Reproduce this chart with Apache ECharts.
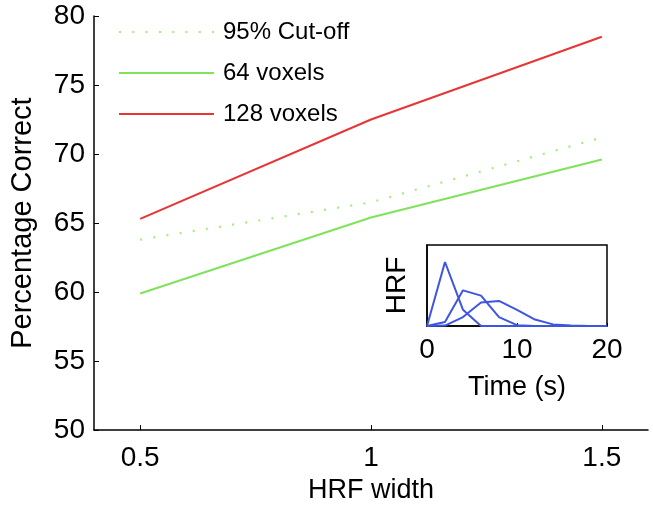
<!DOCTYPE html>
<html>
<head>
<meta charset="utf-8">
<script src="https://cdn.jsdelivr.net/npm/echarts@6/dist/echarts.min.js"></script>
<style>html,body{margin:0;padding:0;background:#fff}#c{width:653px;height:509px}</style>
</head>
<body>
<div id="c"></div>
<script>
var hrfWidth = [0.5, 1, 1.5];
var xTicks = [0.5, 1, 1.5];
var cutoff = [63.8, 66.5, 71.2];
var voxels64 = [59.9, 65.4, 69.6];
var voxels128 = [65.3, 72.5, 78.5];
var time = [0, 2, 4, 6, 8, 10, 12, 14, 16, 18, 20];
var hrf1 = [0, 0.79, 0.20, 0, 0, 0, 0, 0, 0, 0, 0];
var hrf2 = [0, 0.05, 0.44, 0.375, 0.11, 0.01, 0, 0, 0, 0, 0];
var hrf3 = [0, 0.005, 0.11, 0.29, 0.31, 0.20, 0.08, 0.02, 0.005, 0, 0];

function pairs(xs, ys) { return xs.map(function (x, i) { return [x, ys[i]]; }); }

var font = 'Liberation Sans';
var chart = echarts.init(document.getElementById('c'), null, { renderer: 'canvas' });
var blue = '#3d55e0';
chart.setOption({
  animation: false,
  backgroundColor: '#fff',
  textStyle: { fontFamily: font },
  legend: {
    data: ['95% Cut-off', '64 voxels', '128 voxels'],
    orient: 'vertical', left: 113, top: 15,
    itemWidth: 95, itemHeight: 24, itemGap: 17,
    itemStyle: { opacity: 0 },
    textStyle: { fontSize: 24, color: '#000', fontFamily: font, padding: [0, 0, 0, 4] }
  },
  grid: [
    { left: 91, top: 16, right: 5, bottom: 74 },
    { left: 427, top: 245, width: 180, height: 81, show: true, borderColor: '#000', borderWidth: 1.5, backgroundColor: '#fff', z: 5 }
  ],
  xAxis: [
    {
      gridIndex: 0, type: 'value', min: 0.4, max: 1.6,
      name: 'HRF width', nameLocation: 'middle', nameGap: 42,
      nameTextStyle: { fontSize: 27, color: '#000', fontFamily: font },
      axisLine: { lineStyle: { color: '#000', width: 1.5 } },
      axisTick: { inside: true, length: 5, customValues: xTicks, lineStyle: { color: '#000' } },
      axisLabel: { customValues: xTicks, fontSize: 28, color: '#000', margin: 14, fontFamily: font },
      splitLine: { show: false }
    },
    {
      gridIndex: 1, type: 'value', min: 0, max: 20, interval: 10,
      name: 'Time (s)', nameLocation: 'middle', nameGap: 48,
      nameTextStyle: { fontSize: 27, color: '#000', fontFamily: font },
      axisLine: { lineStyle: { color: '#000', width: 1.5 } },
      axisTick: { inside: true, length: 3, lineStyle: { color: '#000' } },
      axisLabel: { fontSize: 28, color: '#000', margin: 10, fontFamily: font },
      splitLine: { show: false }, z: 6
    }
  ],
  yAxis: [
    {
      gridIndex: 0, type: 'value', min: 50, max: 80, interval: 5,
      name: 'Percentage Correct', nameLocation: 'middle', nameGap: 57,
      nameTextStyle: { fontSize: 29, color: '#000', fontFamily: font },
      axisLine: { show: true, lineStyle: { color: '#000', width: 1.5 } },
      axisTick: { show: true, inside: true, length: 5, lineStyle: { color: '#000' } },
      axisLabel: { fontSize: 28, color: '#000', margin: 9, fontFamily: font },
      splitLine: { show: false }
    },
    {
      gridIndex: 1, type: 'value', min: 0, max: 1,
      name: 'HRF', nameLocation: 'middle', nameGap: 16,
      nameTextStyle: { fontSize: 28, color: '#000', fontFamily: font },
      axisLine: { show: true, lineStyle: { color: '#000', width: 1.5 } },
      axisTick: { show: false }, axisLabel: { show: false },
      splitLine: { show: false }, z: 6
    }
  ],
  series: [
    { name: '95% Cut-off', type: 'line', xAxisIndex: 0, yAxisIndex: 0, data: pairs(hrfWidth, cutoff), symbol: 'none',
      lineStyle: { color: '#a6ec7e', width: 2.2, type: [2, 11.3] }, itemStyle: { color: '#a6ec7e' } },
    { name: '64 voxels', type: 'line', xAxisIndex: 0, yAxisIndex: 0, data: pairs(hrfWidth, voxels64), symbol: 'none',
      lineStyle: { color: '#7ee35a', width: 2 }, itemStyle: { color: '#7ee35a' } },
    { name: '128 voxels', type: 'line', xAxisIndex: 0, yAxisIndex: 0, data: pairs(hrfWidth, voxels128), symbol: 'none',
      lineStyle: { color: '#e83434', width: 2 }, itemStyle: { color: '#e83434' } },
    { name: 'h1', type: 'line', xAxisIndex: 1, yAxisIndex: 1, data: pairs(time, hrf1), symbol: 'none', z: 7,
      lineStyle: { color: blue, width: 2 } },
    { name: 'h2', type: 'line', xAxisIndex: 1, yAxisIndex: 1, data: pairs(time, hrf2), symbol: 'none', z: 7,
      lineStyle: { color: blue, width: 2 } },
    { name: 'h3', type: 'line', xAxisIndex: 1, yAxisIndex: 1, data: pairs(time, hrf3), symbol: 'none', z: 7,
      lineStyle: { color: blue, width: 2 } }
  ]
});
</script>
</body>
</html>
